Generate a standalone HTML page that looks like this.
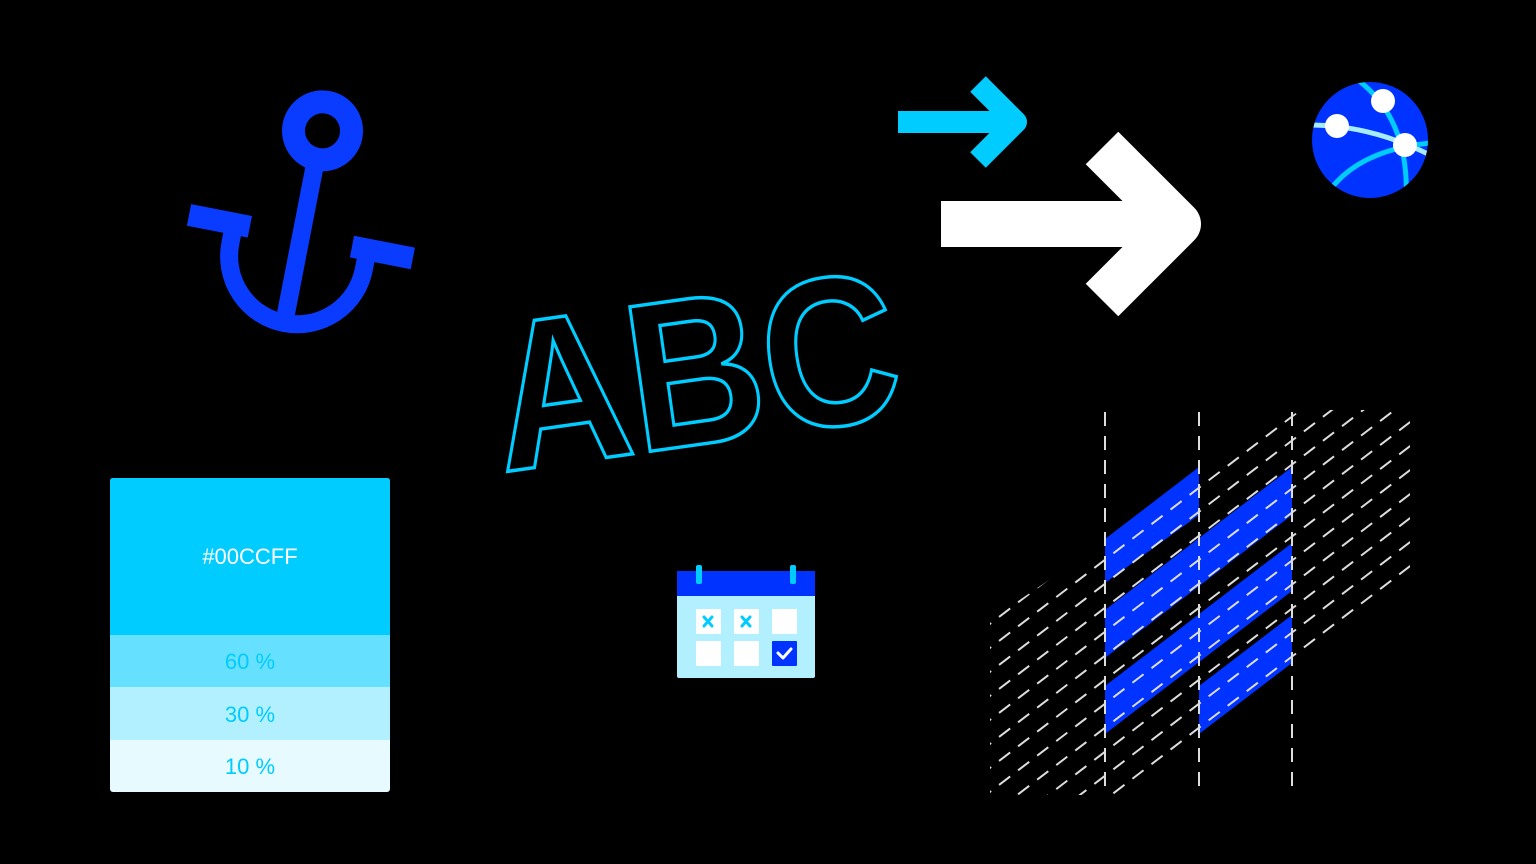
<!DOCTYPE html>
<html><head><meta charset="utf-8"><style>
html,body{margin:0;padding:0;background:#000;width:1536px;height:864px;overflow:hidden;}
svg{display:block;}
</style></head><body>
<svg width="1536" height="864" viewBox="0 0 1536 864" xmlns="http://www.w3.org/2000/svg">
<rect width="1536" height="864" fill="#000"/>
<!-- anchor -->
<g transform="rotate(11 300 210)" fill="none" stroke="#0a3cff" stroke-width="18">
  <circle cx="307" cy="128" r="29" stroke-width="23"/>
  <line x1="306" y1="155" x2="306" y2="320"/>
  <path d="M238 236 L238 256 A68 68 0 0 0 374 256 L374 236"/>
  <line x1="192" y1="236" x2="254" y2="236" stroke-width="22"/>
  <line x1="358" y1="236" x2="420" y2="236" stroke-width="22"/>
</g>
<!-- cyan arrow -->
<g fill="none" stroke="#00ccff" stroke-width="22">
  <line x1="898" y1="122" x2="1020" y2="122"/>
  <polyline points="978,84 1016,122 978,160" stroke-linejoin="round"/>
</g>
<!-- white arrow -->
<g fill="none" stroke="#fff" stroke-width="46">
  <line x1="941" y1="224" x2="1180" y2="224"/>
  <polyline points="1102,148 1178,224 1102,300" stroke-linejoin="round"/>
</g>
<!-- globe -->
<circle cx="1370" cy="140" r="58" fill="#0033ff"/>
<clipPath id="gc"><circle cx="1370" cy="140" r="58"/></clipPath>
<g clip-path="url(#gc)" fill="none" stroke-width="5">
  <path d="M1310 125 Q1370 125 1430 155" stroke="#a8ecff"/>
  <path d="M1358 80 Q1410 120 1406 200" stroke="#00ccff"/>
  <path d="M1330 190 Q1360 150 1430 143" stroke="#00ccff"/>
</g>
<circle cx="1383" cy="101" r="12" fill="#fff"/>
<circle cx="1337" cy="126" r="12" fill="#fff"/>
<circle cx="1405" cy="145" r="12" fill="#fff"/>
<!-- ABC -->
<text x="503" y="472" transform="rotate(-8 503 472)" font-family="Liberation Sans, sans-serif" font-weight="bold" font-size="212" textLength="408" lengthAdjust="spacingAndGlyphs" fill="none" stroke="#00ccff" stroke-width="3.5">ABC</text>
<!-- color card -->
<rect x="110" y="478" width="280" height="314" rx="3" fill="#e6faff"/>
<path d="M113 478 H387 A3 3 0 0 1 390 481 V635 H110 V481 A3 3 0 0 1 113 478Z" fill="#00ccff"/>
<rect x="110" y="635" width="280" height="52" fill="#66e0ff"/>
<rect x="110" y="687" width="280" height="53" fill="#b3f0ff"/>
<g font-family="Liberation Sans, sans-serif" font-size="22" text-anchor="middle">
  <text x="250" y="564" fill="#fff">#00CCFF</text>
  <text x="250" y="669" fill="#00ccff">60 %</text>
  <text x="250" y="722" fill="#00ccff">30 %</text>
  <text x="250" y="774" fill="#00ccff">10 %</text>
</g>
<!-- calendar -->
<rect x="677" y="571" width="138" height="107" rx="2" fill="#b3f0ff"/>
<rect x="677" y="571" width="138" height="25" fill="#0033ff"/>
<rect x="696" y="565" width="6" height="19" rx="2" fill="#00ccff"/>
<rect x="790" y="565" width="6" height="19" rx="2" fill="#00ccff"/>
<g fill="#fff">
  <rect x="696" y="609" width="25" height="25" rx="1"/>
  <rect x="734" y="609" width="25" height="25" rx="1"/>
  <rect x="772" y="609" width="25" height="25" rx="1"/>
  <rect x="696" y="641" width="25" height="25" rx="1"/>
  <rect x="734" y="641" width="25" height="25" rx="1"/>
</g>
<rect x="772" y="641" width="25" height="25" rx="1" fill="#0033ff"/>
<g stroke="#00ccff" stroke-width="3" stroke-linecap="round">
  <line x1="704" y1="617" x2="712" y2="626"/><line x1="712" y1="617" x2="704" y2="626"/>
  <line x1="742" y1="617" x2="750" y2="626"/><line x1="750" y1="617" x2="742" y2="626"/>
</g>
<polyline points="778,653 783,658 791,649" fill="none" stroke="#fff" stroke-width="3" stroke-linecap="round" stroke-linejoin="round"/>
<!-- grid pattern -->
<g fill="#0033ff">
  <polygon points="1105,539 1199,467 1199,515 1105,583"/>
  <polygon points="1105,610 1292,467 1292,515 1105,658"/>
  <polygon points="1105,686 1292,543 1292,591 1105,734"/>
  <polygon points="1199,686 1292,615 1292,663 1199,734"/>
</g>
<clipPath id="dc"><polygon points="990,620 1300,410 1410,410 1410,575 1120,795 990,795"/></clipPath>
<g clip-path="url(#dc)" stroke="#ddd" stroke-width="2" stroke-dasharray="14 10" fill="none">
  <line x1="980" y1="535.5" x2="1420" y2="198.5"/>
  <line x1="980" y1="559.5" x2="1420" y2="222.5"/>
  <line x1="980" y1="583.5" x2="1420" y2="246.5"/>
  <line x1="980" y1="607.5" x2="1420" y2="270.5"/>
  <line x1="980" y1="631.5" x2="1420" y2="294.5"/>
  <line x1="980" y1="655.5" x2="1420" y2="318.5"/>
  <line x1="980" y1="679.5" x2="1420" y2="342.5"/>
  <line x1="980" y1="703.5" x2="1420" y2="366.5"/>
  <line x1="980" y1="727.5" x2="1420" y2="390.5"/>
  <line x1="980" y1="751.5" x2="1420" y2="414.5"/>
  <line x1="980" y1="775.5" x2="1420" y2="438.5"/>
  <line x1="980" y1="799.5" x2="1420" y2="462.5"/>
  <line x1="980" y1="823.5" x2="1420" y2="486.5"/>
  <line x1="980" y1="847.5" x2="1420" y2="510.5"/>
  <line x1="980" y1="871.5" x2="1420" y2="534.5"/>
  <line x1="980" y1="895.5" x2="1420" y2="558.5"/>
  <line x1="980" y1="919.5" x2="1420" y2="582.5"/>
  <line x1="980" y1="943.5" x2="1420" y2="606.5"/>
</g>
<g stroke="#ddd" stroke-width="2" stroke-dasharray="14 10">
  <line x1="1105" y1="412" x2="1105" y2="792"/>
  <line x1="1199" y1="412" x2="1199" y2="792"/>
  <line x1="1292" y1="412" x2="1292" y2="792"/>
</g>
</svg>
</body></html>
